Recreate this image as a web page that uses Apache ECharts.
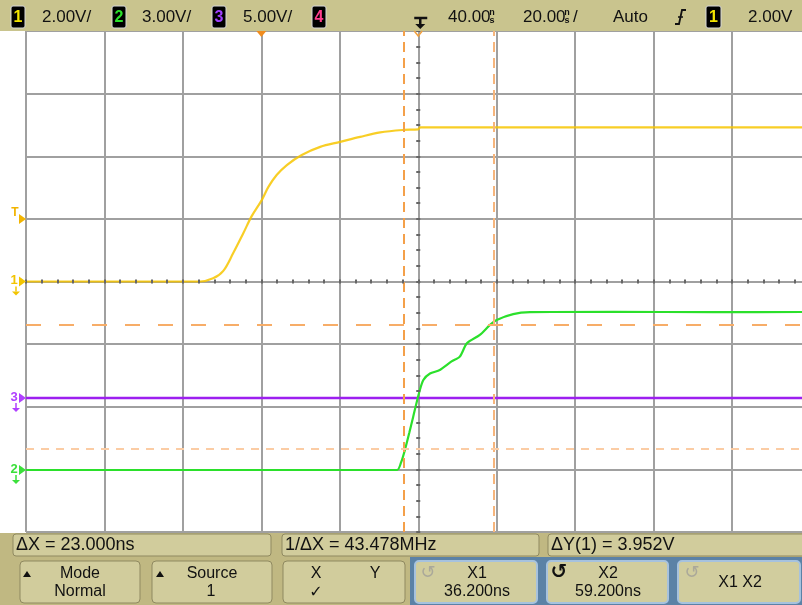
<!DOCTYPE html>
<html><head><meta charset="utf-8">
<script src="https://cdn.jsdelivr.net/npm/echarts@6/dist/echarts.min.js"></script>
<style>html,body{margin:0;padding:0;background:#fff;overflow:hidden}#c{width:802px;height:605px}</style>
</head><body><div id="c"></div>
<script>
// ---- scope settings ----
const timeMin = -60, timeMax = 140, timePerDiv = 20;   // ns
const divMin = -4, divMax = 4;
const voltsPerDiv = [2, 3, 5];            // ch1, ch2, ch3
const offsetDiv = [0, -3.01, -1.86];      // ground marker positions (divisions)
const triggerLevel = 2.0;                 // V on ch1
const triggerTime = 0;                    // ns
const delayTime = 40;                     // ns
const cursorX = [36.2, 59.2];             // ns (X1, X2)
const cursorY = [-1.39, -5.34];           // V on ch1 (Y1, Y2)

// ---- waveforms ----
const ch1Time  = [-60, -30, -20, -15.6, -12.3, -9.7, -7.2, -4.6, -2.5, 0.1, 1.8, 3.9, 6.5, 10.3, 15.0, 20.1, 25.2, 30.3, 36.2, 40.0, 40.5, 80, 140];
const ch1Volts = [0, 0, 0, 0, 0.10, 0.34, 0.90, 1.54, 2.08, 2.60, 3.02, 3.40, 3.72, 4.04, 4.30, 4.46, 4.62, 4.76, 4.84, 4.86, 4.92, 4.92, 4.92];
const ch2Time  = [-60, 20, 34.6, 35.6, 36.6, 37.7, 38.7, 40.2, 41.3, 43.0, 45.5, 48.5, 50.6, 52.4, 55.7, 58.3, 60.0, 64.2, 68.5, 90, 115, 140];
const ch2Volts = [0, 0, 0, 0.35, 0.96, 1.77, 2.54, 3.69, 4.31, 4.62, 4.79, 5.20, 5.43, 6.07, 6.47, 6.95, 7.19, 7.47, 7.56, 7.58, 7.56, 7.57];
const ch3Time  = [-60, 140];
const ch3Volts = [0, 0];

// ---- text ----
const chScaleLabels = ['2.00V/', '3.00V/', '5.00V/'];
const infoLabels = ['\u0394X = 23.000ns', '1/\u0394X = 43.478MHz', '\u0394Y(1) = 3.952V'];
const buttonLabels = [['Mode', 'Normal'], ['Source', '1'], ['X1', '36.200ns'], ['X2', '59.200ns']];

const FONT = "'Liberation Sans', Arial, sans-serif";
const colors = { ch1: '#f7c600', ch2: '#2be02b', ch3: '#9d1ff0', ch4: '#ff3d8d' };

function trace(times, volts, vpd, off) {
  return times.map((t, i) => [t, volts[i] / vpd + off]);
}

const chart = echarts.init(document.getElementById('c'), null, { renderer: 'canvas' });

const gridRect = { left: 26, top: 31, width: 784.5, height: 501, outerBoundsMode: 'none' };
const hidden = { show: false };
const gridLine = { show: true, lineStyle: { color: '#a0a0a0', width: 2 } };

function centerAxis(type, pos, min, max, split) {
  return {
    type: 'value', gridIndex: 1, position: pos, min: min, max: max, interval: 1,
    axisLine: { show: false, onZero: true },
    axisTick: { show: true, length: 2, inside: false, lineStyle: { color: '#666', width: 2 } },
    minorTick: { show: true, splitNumber: split, length: 2, lineStyle: { color: '#666', width: 2 } },
    axisLabel: hidden, splitLine: hidden, z: 5
  };
}

const option = {
  animation: false,
  backgroundColor: '#ffffff',
  grid: [Object.assign({}, gridRect), Object.assign({}, gridRect)],
  xAxis: [
    { type: 'value', gridIndex: 0, min: timeMin, max: timeMax, interval: timePerDiv,
      axisLine: hidden, axisTick: hidden, axisLabel: hidden, splitLine: gridLine },
    centerAxis('x', 'bottom', -5, 5, 5),
    centerAxis('x', 'top', -5, 5, 5)
  ],
  yAxis: [
    { type: 'value', gridIndex: 0, min: divMin, max: divMax, interval: 1,
      axisLine: hidden, axisTick: hidden, axisLabel: hidden, splitLine: gridLine },
    centerAxis('y', 'left', -4, 4, 4),
    centerAxis('y', 'right', -4, 4, 4)
  ],
  series: [
    { type: 'line', name: 'cursors', xAxisIndex: 0, yAxisIndex: 0, data: [], z: 1,
      markLine: { silent: true, symbol: ['none', 'none'], label: { show: false },
        data: [
          { xAxis: cursorX[0], lineStyle: { color: '#f4a04a', width: 2, type: [10, 6] } },
          { xAxis: cursorX[1], lineStyle: { color: '#f6b57c', width: 2, type: [10, 6] } },
          { yAxis: cursorY[0] / voltsPerDiv[0] + offsetDiv[0], lineStyle: { color: '#f7ad68', width: 2, type: [15, 18] } },
          { yAxis: cursorY[1] / voltsPerDiv[0] + offsetDiv[0], lineStyle: { color: '#fbcca4', width: 2, type: [8, 7] } }
        ] } },
    { type: 'line', name: 'ch1', xAxisIndex: 0, yAxisIndex: 0, showSymbol: false, smooth: 0.35,
      data: trace(ch1Time, ch1Volts, voltsPerDiv[0], offsetDiv[0]),
      lineStyle: { color: colors.ch1, width: 2.2, opacity: 0.85 }, z: 2 },
    { type: 'line', name: 'ch3', xAxisIndex: 0, yAxisIndex: 0, showSymbol: false,
      data: trace(ch3Time, ch3Volts, voltsPerDiv[2], offsetDiv[2]),
      lineStyle: { color: colors.ch3, width: 2.5 }, z: 3 },
    { type: 'line', name: 'ch2', xAxisIndex: 0, yAxisIndex: 0, showSymbol: false, smooth: 0.25,
      data: trace(ch2Time, ch2Volts, voltsPerDiv[1], offsetDiv[1]),
      lineStyle: { color: colors.ch2, width: 2.2 }, z: 4 }
  ]
};
chart.setOption(option);

// ---- decorations placed through the chart scales ----
function px(t, d) { return chart.convertToPixel({ gridIndex: 0 }, [t, d]); }
const G = [];
const Z = 100;
function rect(x, y, w, h, fill, stroke, lw, r) {
  G.push({ type: 'rect', z: Z, shape: { x: x, y: y, width: w, height: h, r: r || 0 },
    style: { fill: fill, stroke: stroke || null, lineWidth: lw || 0 } });
}
function text(x, y, s, size, color, align, weight, family) {
  G.push({ type: 'text', z: Z + 1, x: x, y: y,
    style: { text: s, fill: color || '#111', font: (weight || 'normal') + ' ' + size + 'px ' + (family || FONT),
      textAlign: align || 'left', textVerticalAlign: 'middle' } });
}
function poly(points, fill, z) {
  G.push({ type: 'polygon', z: z || Z + 1, shape: { points: points }, style: { fill: fill } });
}
function pline(points, stroke, lw, z) {
  G.push({ type: 'polyline', z: z || Z + 1, shape: { points: points }, style: { stroke: stroke, lineWidth: lw, fill: null } });
}
function badge(x, y, w, h, digit, color) {
  rect(x, y, w, h, '#000', '#d8d8d8', 1, 2);
  text(x + w / 2, y + h / 2 + 1, digit, 16, color, 'center', 'bold');
}

// top bar
rect(0, 0, 802, 31, '#c9c48e');
badge(11, 6, 14, 22, '1', '#f2e400');
text(42, 17, chScaleLabels[0], 17);
badge(112, 6, 14, 22, '2', colors.ch2);
text(142, 17, chScaleLabels[1], 17);
badge(212, 6, 14, 22, '3', '#a040ff');
text(243, 17, chScaleLabels[2], 17);
badge(312, 6, 14, 22, '4', colors.ch4);
text(448, 17, '40.00', 17);
text(492, 13, 'n', 9, '#111', 'center', 'bold');
text(492, 21, 's', 9, '#111', 'center', 'bold');
text(523, 17, '20.00', 17);
text(567, 13, 'n', 9, '#111', 'center', 'bold');
text(567, 21, 's', 9, '#111', 'center', 'bold');
text(573, 17, '/', 17);
text(613, 17, 'Auto', 17);
pline([[675, 24], [679, 24], [682, 10], [686, 10]], '#111', 1.8);
pline([[678, 17], [683, 17]], '#111', 1.5);
badge(706, 6, 15, 22, '1', '#f2e400');
text(748, 17, '2.00V', 17);

// delay marker (center) and trigger point marker
const cTop = px(delayTime, divMax);
pline([[cTop[0] - 4, 18], [cTop[0] + 9, 18]], '#111', 2.5);
pline([[cTop[0] + 2, 18], [cTop[0] + 2, 25]], '#111', 2.5);
poly([[cTop[0] - 3, 24], [cTop[0] + 7, 24], [cTop[0] + 2, 29]], '#111');
pline([[cTop[0] - 4, cTop[1]], [cTop[0], cTop[1] + 5], [cTop[0] + 4, cTop[1]]], '#f0a040', 1.5);
const tTop = px(triggerTime, divMax);
poly([[tTop[0] - 5, tTop[1]], [tTop[0] + 5, tTop[1]], [tTop[0], tTop[1] + 6]], '#f08c1e');

// left markers
function leftMarker(d, label, color, ground) {
  const p = px(timeMin, d);
  const y = p[1];
  poly([[19, y - 5], [26, y], [19, y + 5]], color);
  if (ground) {
    text(14, y - 1, label, 13, color, 'center', 'bold');
    pline([[16, y + 5], [16, y + 10]], color, 1.5);
    poly([[12, y + 10], [20, y + 10], [16, y + 14]], color);
  } else {
    text(15, y - 6, label, 12, color, 'center', 'bold');
  }
}
leftMarker(triggerLevel / voltsPerDiv[0] + offsetDiv[0], 'T', '#f2b400', false);
leftMarker(offsetDiv[0], '1', '#f2c400', true);
leftMarker(offsetDiv[2], '3', '#b040ff', true);
leftMarker(offsetDiv[1], '2', '#3be03b', true);

// bottom panel
rect(0, 533, 802, 72, '#c0b882');
rect(13, 534, 258, 22, '#d1cc9c', '#8f8960', 1, 3);
rect(282, 534, 257, 22, '#d1cc9c', '#8f8960', 1, 3);
rect(548, 534, 260, 22, '#d1cc9c', '#8f8960', 1, 3);
text(16, 545, infoLabels[0], 18);
text(285, 545, infoLabels[1], 18);
text(551, 545, infoLabels[2], 18);
rect(410, 557, 392, 48, '#5b82a6');
// khaki buttons
const kb = [[20, 140], [152, 272], [283, 405]];
kb.forEach(b => rect(b[0], 561, b[1] - b[0], 42, '#d1cc9c', '#8f8960', 1, 4));
poly([[23, 577], [31, 577], [27, 571]], '#111');
text(80, 574, buttonLabels[0][0], 16, '#111', 'center');
text(80, 592, buttonLabels[0][1], 16, '#111', 'center');
poly([[156, 577], [164, 577], [160, 571]], '#111');
text(212, 574, buttonLabels[1][0], 16, '#111', 'center');
text(211, 592, buttonLabels[1][1], 16, '#111', 'center');
text(316, 574, 'X', 16, '#111', 'center');
text(375, 574, 'Y', 16, '#111', 'center');
text(316, 593, '\u2713', 16, '#111', 'center', 'normal', "'DejaVu Sans', sans-serif");
// blue-area buttons
const bb = [[415, 537], [547, 668], [678, 800]];
bb.forEach(b => rect(b[0], 561, b[1] - b[0], 42, '#d1cd9e', '#a6c2de', 2, 4));
text(428, 573, '\u21BA', 18, '#aaa89a', 'center', 'normal', "'DejaVu Sans', sans-serif");
text(477, 574, buttonLabels[2][0], 16, '#111', 'center');
text(477, 592, buttonLabels[2][1], 16, '#111', 'center');
text(559, 573, '\u21BA', 20, '#111', 'center', 'bold', "'DejaVu Sans', sans-serif");
text(608, 574, buttonLabels[3][0], 16, '#111', 'center');
text(608, 592, buttonLabels[3][1], 16, '#111', 'center');
text(692, 573, '\u21BA', 18, '#aaa89a', 'center', 'normal', "'DejaVu Sans', sans-serif");
text(740, 583, 'X1 X2', 16, '#111', 'center');

chart.setOption({ graphic: { elements: G } });
</script>
</body></html>
